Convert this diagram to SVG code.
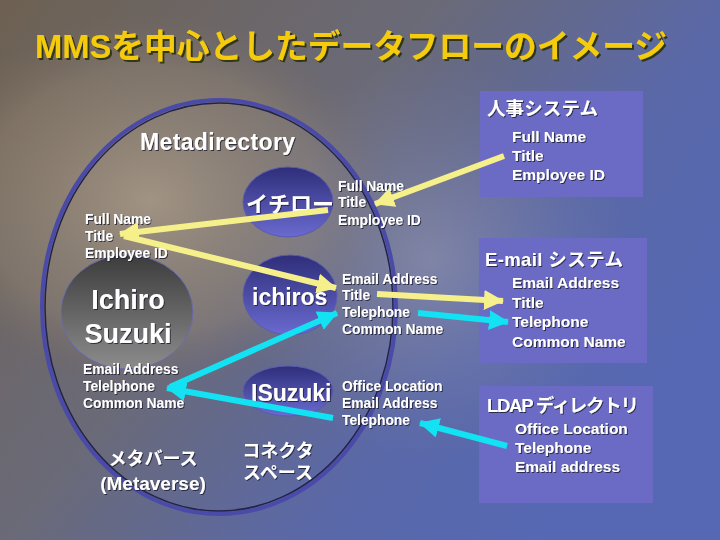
<svg xmlns="http://www.w3.org/2000/svg" width="720" height="540" viewBox="0 0 720 540">
<defs>
<linearGradient id="bg" x1="0" y1="0" x2="1" y2="0.6">
<stop offset="0" stop-color="#6e6152"/>
<stop offset="0.45" stop-color="#6a6a78"/>
<stop offset="0.75" stop-color="#5a68a8"/>
<stop offset="1" stop-color="#5668b4"/>
</linearGradient>
<radialGradient id="globe" cx="0.5" cy="0.5" r="0.5">
<stop offset="0" stop-color="#b8a68c" stop-opacity="0.7"/>
<stop offset="0.7" stop-color="#9a8a74" stop-opacity="0.4"/>
<stop offset="1" stop-color="#7a6a5a" stop-opacity="0"/>
</radialGradient>
<radialGradient id="mid" cx="0.5" cy="0.5" r="0.5">
<stop offset="0" stop-color="#a8a8b8" stop-opacity="0.45"/>
<stop offset="1" stop-color="#8888a0" stop-opacity="0"/>
</radialGradient>
<linearGradient id="node" x1="0" y1="0" x2="0" y2="1">
<stop offset="0" stop-color="#2e2e7a"/>
<stop offset="1" stop-color="#6a6ad0"/>
</linearGradient>
<linearGradient id="gray" x1="0" y1="0" x2="0" y2="1">
<stop offset="0" stop-color="#3c3c3c"/>
<stop offset="1" stop-color="#8c8c8c"/>
</linearGradient>
<marker id="hy" viewBox="0 0 20 20" refX="19" refY="10" markerWidth="20" markerHeight="20" markerUnits="userSpaceOnUse" orient="auto">
<path d="M0,0 L20,10 L0,20 z" fill="#f6f08a"/>
</marker>
<marker id="hc" viewBox="0 0 20 20" refX="19" refY="10" markerWidth="20" markerHeight="20" markerUnits="userSpaceOnUse" orient="auto">
<path d="M0,0 L20,10 L0,20 z" fill="#12e2f2"/>
</marker>
<filter id="sh" x="-10%" y="-20%" width="130%" height="150%">
<feDropShadow dx="1" dy="1" stdDeviation="0.3" flood-color="#1a1a2a" flood-opacity="0.8"/>
</filter>
<filter id="tsh" x="-5%" y="-20%" width="110%" height="150%">
<feDropShadow dx="2" dy="2" stdDeviation="0.4" flood-color="#2a3010" flood-opacity="0.9"/>
</filter>
</defs>
<style>
text{font-family:"Liberation Sans","Noto Sans CJK JP",sans-serif;font-weight:bold;fill:#ffffff;filter:url(#sh)}
.title{fill:#f5cc10;font-size:33px;filter:url(#tsh)}
.lbl{font-size:13.8px}
.blbl{font-size:15.5px}
.head{font-size:18.5px}
.nm{font-size:23px}
.box{fill:#6b6bc6}
.yl{stroke:#f6f08a;stroke-width:6;fill:none;marker-end:url(#hy)}
.cy{stroke:#12e2f2;stroke-width:6;fill:none;marker-end:url(#hc)}
</style>
<rect width="720" height="540" fill="url(#bg)"/>
<ellipse cx="150" cy="200" rx="240" ry="190" fill="url(#globe)"/>
<ellipse cx="430" cy="260" rx="200" ry="200" fill="url(#mid)"/>

<text class="title" x="35" y="58" textLength="632" lengthAdjust="spacingAndGlyphs">MMSを中心としたデータフローのイメージ</text>

<g id="metadirectory">
<ellipse cx="219" cy="307" rx="177" ry="207" fill="none" stroke="#4a4aa8" stroke-width="4"/>
<ellipse cx="219" cy="307" rx="174" ry="204" fill="none" stroke="#22224a" stroke-width="1.5"/>
<text x="140" y="150" style="font-size:23px" textLength="155">Metadirectory</text>
</g>

<g id="ichiro-node">
<ellipse cx="288" cy="202" rx="45" ry="35" fill="url(#node)" stroke="#5a5ab0" stroke-width="1"/>
<text class="nm" x="246" y="212" style="font-size:22px">イチロー</text>
</g>

<g id="ichiros-node">
<ellipse cx="290" cy="295" rx="47" ry="40" fill="url(#node)" stroke="#5a5ab0" stroke-width="1"/>
<text class="nm" x="252" y="305">ichiros</text>
</g>

<g id="isuzuki-node">
<ellipse cx="288" cy="391" rx="45" ry="25" fill="url(#node)" stroke="#5a5ab0" stroke-width="1"/>
<text class="nm" x="251" y="401">ISuzuki</text>
</g>

<g id="ichiro-suzuki">
<ellipse cx="127" cy="312" rx="66" ry="57" fill="url(#gray)" stroke="#6a6ab0" stroke-width="1"/>
<text x="128" y="309" text-anchor="middle" style="font-size:27px">Ichiro</text>
<text x="128" y="343" text-anchor="middle" style="font-size:27px">Suzuki</text>
</g>

<g id="ichiro-attrs">
<text class="lbl" x="338" y="191">Full Name</text>
<text class="lbl" x="338" y="207">Title</text>
<text class="lbl" x="338" y="225">Employee ID</text>
</g>

<g id="meta-attrs1">
<text class="lbl" x="85" y="224">Full Name</text>
<text class="lbl" x="85" y="241">Title</text>
<text class="lbl" x="85" y="258">Employee ID</text>
</g>

<g id="ichiros-attrs">
<text class="lbl" x="342" y="284">Email Address</text>
<text class="lbl" x="342" y="300">Title</text>
<text class="lbl" x="342" y="317">Telephone</text>
<text class="lbl" x="342" y="334">Common Name</text>
</g>

<g id="meta-attrs2">
<text class="lbl" x="83" y="374">Email Address</text>
<text class="lbl" x="83" y="391">Telelphone</text>
<text class="lbl" x="83" y="408">Common Name</text>
</g>

<g id="isuzuki-attrs">
<text class="lbl" x="342" y="391">Office Location</text>
<text class="lbl" x="342" y="408">Email Address</text>
<text class="lbl" x="342" y="425">Telephone</text>
</g>

<g id="metaverse">
<text x="153" y="465" text-anchor="middle" style="font-size:18px">メタバース</text>
<text x="153" y="490" text-anchor="middle" style="font-size:19px">(Metaverse)</text>
</g>

<g id="connector-space">
<text x="278" y="457" text-anchor="middle" style="font-size:18px">コネクタ</text>
<text x="278" y="479" text-anchor="middle" style="font-size:18px">スペース</text>
</g>

<g id="hr-system">
<rect class="box" x="480" y="91" width="163" height="106"/>
<text class="head" x="487" y="115" textLength="111">人事システム</text>
<text class="blbl" x="512" y="142">Full Name</text>
<text class="blbl" x="512" y="161">Title</text>
<text class="blbl" x="512" y="180">Employee ID</text>
</g>

<g id="email-system">
<rect class="box" x="479" y="238" width="168" height="125"/>
<text class="head" x="485" y="266" textLength="138">E-mail システム</text>
<text class="blbl" x="512" y="288">Email Address</text>
<text class="blbl" x="512" y="308">Title</text>
<text class="blbl" x="512" y="327">Telephone</text>
<text class="blbl" x="512" y="347">Common Name</text>
</g>

<g id="ldap-directory">
<rect class="box" x="479" y="386" width="174" height="117"/>
<text class="head" x="487" y="412" textLength="152">LDAP ディレクトリ</text>
<text class="blbl" x="515" y="434">Office Location</text>
<text class="blbl" x="515" y="453">Telephone</text>
<text class="blbl" x="515" y="472">Email address</text>
</g>

<g id="connectors">
<line class="yl" x1="504" y1="156" x2="375" y2="204"/>
<line class="yl" x1="328" y1="210" x2="120" y2="234"/>
<line class="yl" x1="124" y1="236" x2="336" y2="288"/>
<line class="yl" x1="377" y1="294" x2="503" y2="301"/>
<line class="cy" x1="418" y1="313" x2="508" y2="322"/>
<line class="cy" x1="170" y1="387" x2="337" y2="313"/>
<line class="cy" x1="333" y1="418" x2="167" y2="388"/>
<line class="cy" x1="507" y1="446" x2="420" y2="423"/>
</g>
</svg>
